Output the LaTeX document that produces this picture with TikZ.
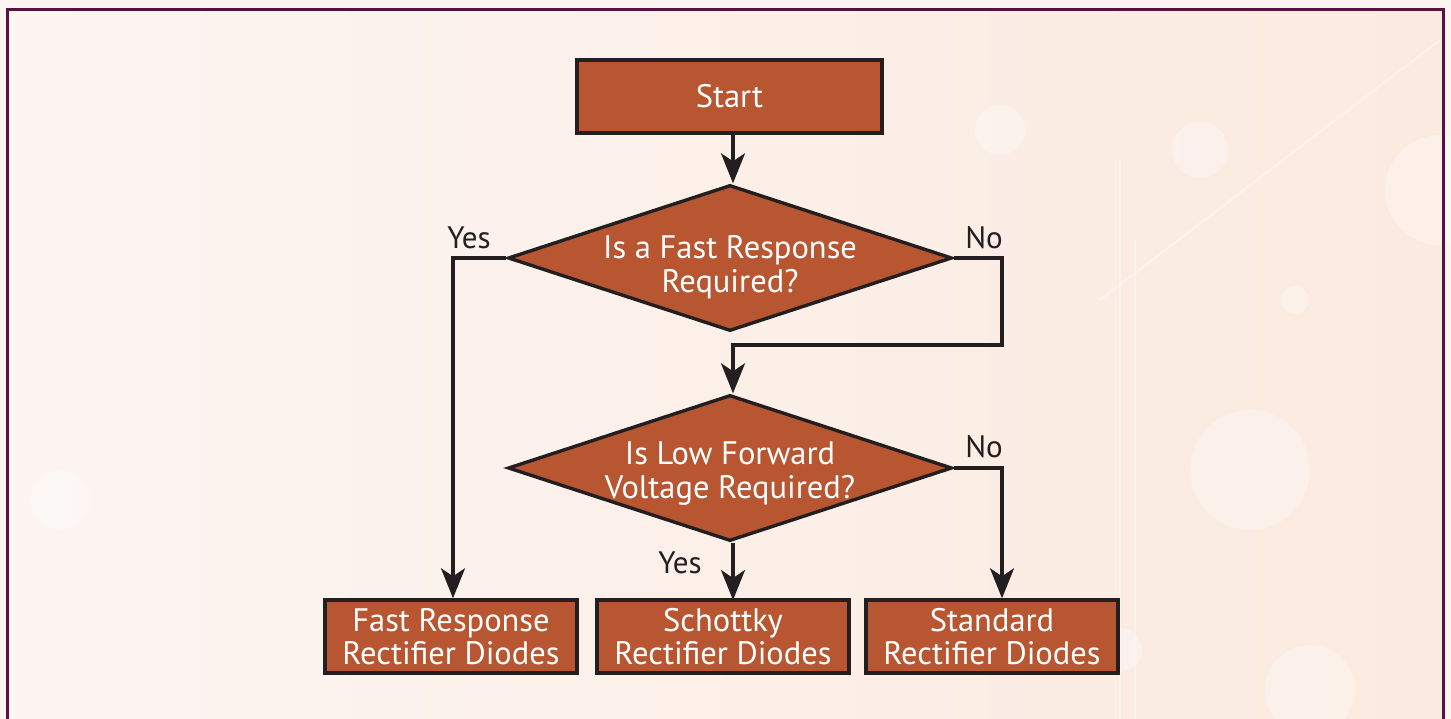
\documentclass[tikz,border=0pt]{standalone}
\usepackage{fontspec}
\setmainfont{PT Sans}
\usetikzlibrary{shapes.geometric,arrows.meta}
\definecolor{boxfill}{HTML}{B85631}
\definecolor{ink}{HTML}{231F20}
\definecolor{framecol}{HTML}{5A1043}
\definecolor{bgA}{HTML}{FCF5F2}
\definecolor{bgB}{HTML}{FBEADF}
\begin{document}
\begin{tikzpicture}[x=1pt,y=-1pt,
  txt/.style={font=\fontsize{32.5}{33}\selectfont, text=white, align=center},
  dtxt/.style={font=\fontsize{32.5}{34}\selectfont, text=white, align=center},
  procbox/.style={draw=ink, line width=3.4pt, fill=boxfill, minimum width=252pt, minimum height=73pt, inner sep=0pt, txt},
  decbox/.style={diamond, draw=ink, line width=3.4pt, fill=boxfill, minimum width=444pt, minimum height=146pt, inner sep=0pt},
  lbl/.style={font=\fontsize{31}{32}\selectfont, text=ink, inner sep=0pt},
  conn/.style={draw=ink, line width=3.4pt},
  arr/.style={conn, -{Stealth[length=30pt, width=24pt, inset=8pt]}},
]
\useasboundingbox (0,0) rectangle (1451,719);
\clip (0,0) rectangle (1451,719);
% background
\fill[bgA] (0,0) rectangle (1451,719);
\shade[left color=bgA, right color=bgB] (8,10) rectangle (1443,719);
\begin{scope}[white, opacity=0.3]
  \fill (1000,130) circle (25);
  \fill (1200,150) circle (28);
  \fill (1295,300) circle (14);
  \fill (1440,190) circle (55);
  \fill (1250,470) circle (60);
  \fill (1310,690) circle (45);
  \fill (60,500) circle (30);
  \fill (1120,650) circle (22);
\end{scope}
\begin{scope}[white, opacity=0.35, line width=2pt]
  \draw (1100,300) -- (1440,40);
  \draw (1120,719) -- (1120,160);
  \draw (1135,719) -- (1135,240);
\end{scope}
\draw[framecol, line width=2.6pt] (7.5,9.5) rectangle (1443.5,740);

% nodes
\node[procbox, minimum width=305pt] (start) at (729.5,96.5) {Start};
\node[decbox, label={[dtxt, yshift=-9pt]center:Is a Fast Response\\Required?}] (d1) at (730,258) {};
\node[decbox, label={[dtxt, yshift=-6pt]center:Is Low Forward\\Voltage Required?}] (d2) at (730,468) {};
\node[procbox] (fast) at (451,636.5) {Fast Response\\Rectifier Diodes};
\node[procbox] (schottky) at (723,636.5) {Schottky\\Rectifier Diodes};
\node[procbox] (standard) at (992,636.5) {Standard\\Rectifier Diodes};

\coordinate (yesA) at (453,258);
\coordinate (noA) at (1002,258);
\coordinate (noB) at (1002,345);
\coordinate (noC) at (733,345);
\coordinate (noD) at (1002,468);
\coordinate (sTop) at (733,600);

% connectors
\draw[arr] (start.south -| d1.north) ++(3,0) -- ([xshift=3pt]d1.north);
\draw[arr] (d1.west) -- (yesA) -- (yesA |- fast.north);
\draw[arr] (d1.east) -- (noA) -- (noB) -- (noC) -- (noC |- d2.north);
\draw[arr] (d2.east) -- (noD) -- (noD |- standard.north);
\draw[arr] (d2.south) ++(3,0) -- (sTop);

% labels
\node[lbl] (yes1) at (469,238) {Yes};
\node[lbl] (no1) at (984,238) {No};
\node[lbl] (no2) at (984,447) {No};
\node[lbl] (yes2) at (680,563) {Yes};
\end{tikzpicture}
\end{document}
